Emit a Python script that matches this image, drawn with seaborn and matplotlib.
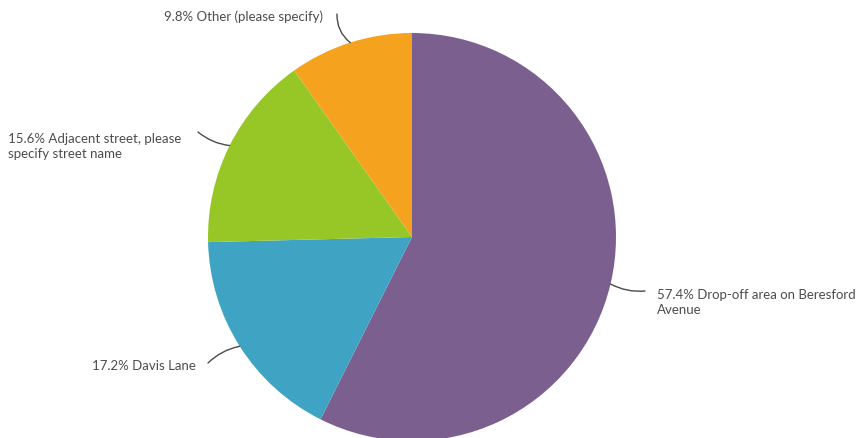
import numpy as np
import matplotlib
matplotlib.use("Agg")
import matplotlib.pyplot as plt
import seaborn as sns

sns.set_theme(style="white")
plt.rcParams["font.family"] = ["Lato", "DejaVu Sans"]

# Survey answers: where children are dropped off
categories = [
    "Drop-off area on Beresford\nAvenue",
    "Davis Lane",
    "Adjacent street, please\nspecify street name",
    "Other (please specify)",
]
shares = [57.4, 17.2, 15.6, 9.8]
colors = ["#7b5f8e", "#3fa3c4", "#97c627", "#f5a31e"]

W, H = 858, 439
fig = plt.figure(figsize=(W / 100, H / 100), dpi=100)
ax = fig.add_axes([0, 0, 1, 1])

cx, cy, r = 412, H - 238, 204
wedges, _ = ax.pie(
    shares, colors=colors, startangle=90, counterclock=False,
    center=(cx, cy), radius=r, frame=True,
    wedgeprops=dict(linewidth=0),
)
ax.set_xlim(0, W)
ax.set_ylim(0, H)
ax.set_axis_off()

# label layout: (leader end x, leader end y, text x, text y, ha, curvature)
layout = [
    (645, H - 292, 657, H - 294, "left", -0.15),
    (208, H - 364, 196, H - 366, "right", -0.15),
    (198, H - 133, 8, H - 138, "left", 0.15),
    (337, H - 15, 323, H - 17, "right", 0.25),
]

text_color = "#4d4d4d"
for w, share, name, (ex, ey, tx, ty, ha, rad) in zip(wedges, shares, categories, layout):
    mid = np.deg2rad((w.theta1 + w.theta2) / 2)
    px, py = cx + r * np.cos(mid), cy + r * np.sin(mid)
    ax.annotate("", xy=(px, py), xytext=(ex, ey),
                arrowprops=dict(arrowstyle="-", color="#4a4a4a", lw=1.0,
                                shrinkA=0, shrinkB=0,
                                connectionstyle=f"arc3,rad={rad}"))
    two_lines = "\n" in name
    ax.text(tx, ty + (5 if two_lines else 0), f"{share}% {name}", ha=ha,
            va="top" if two_lines else "center",
            fontsize=9.5, color=text_color, linespacing=1.35)

fig.savefig("out.png", dpi=100, facecolor="white")
